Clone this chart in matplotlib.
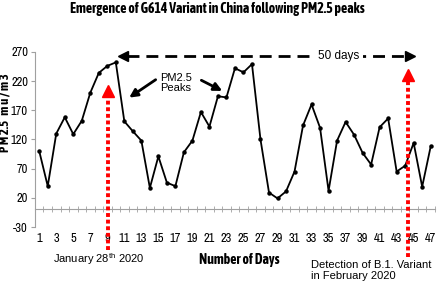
"""PM2.5 levels vs days, G614 variant chart"""

import matplotlib
matplotlib.use("Agg")
import matplotlib.pyplot as plt
import numpy as np

days = list(range(1, 48))
pm25 = [100, 40, 130, 158, 129, 152, 200, 234, 246, 252,
        151, 134, 118, 37, 91, 46, 40, 98, 118, 167,
        142, 194, 192, 242, 235, 249, 120, 29, 19, 31,
        65, 144, 180, 140, 32, 118, 150, 128, 97, 77,
        141, 156, 65, 75, 114, 39, 108]
y_ticks = [-30, 20, 70, 120, 170, 220, 270]
x_labels = list(range(1, 48, 2))

narrow = ['Archivo Narrow', 'DejaVu Sans']
narrow_bold = ['Asap Condensed', 'DejaVu Sans']
plain = ['Liberation Sans', 'DejaVu Sans']
plt.rcParams['mathtext.fontset'] = 'custom'
plt.rcParams['mathtext.rm'] = 'Liberation Sans'

fig = plt.figure(figsize=(4.4, 2.82), dpi=100)
ax = fig.add_axes([0.0795, 0.195, 0.909, 0.621])

ax.plot(days, pm25, color='black', lw=1.3, marker='o', markersize=2.2, zorder=3)

ax.set_xlim(0.5, 47.5)
ax.set_ylim(-30, 270)
ax.set_yticks(y_ticks)
ax.set_yticklabels([str(v) for v in y_ticks], family=narrow, fontsize=9)

# x axis sits at y = 0, labels stay at the bottom
ax.spines['bottom'].set_position(('data', 0))
ax.set_xticks(x_labels)
ax.set_xticklabels([str(v) for v in x_labels], family=narrow, fontsize=9)
ax.tick_params(axis='x', which='major', length=0, pad=17)
ax.set_xticks(np.arange(0.5, 48, 1), minor=True)
ax.tick_params(axis='x', which='minor', length=4, direction='inout', color='#a0a0a0')
ax.tick_params(axis='y', length=3, color='#a0a0a0', pad=2)
for s in ['top', 'right']:
    ax.spines[s].set_visible(False)
for s in ['left', 'bottom']:
    ax.spines[s].set_color('#a0a0a0')

ax.set_ylabel('P M 2.5   m u / m 3', family=narrow_bold, fontsize=9, fontweight='bold')
ax.yaxis.set_label_coords(-0.0575, 0.65)
ax.set_xlabel('Number of Days', family=narrow_bold, fontsize=10, fontweight='bold')
ax.xaxis.set_label_coords(0.51, -0.149)

fig.text(0.494, 0.968, 'Emergence of G614 Variant in China following PM2.5 peaks',
         ha='center', va='center', family=narrow_bold, fontsize=10, fontweight='bold')

# 50 days double arrow
ax.plot([11.3, 44.2], [263.6, 263.6], color='black', lw=2, dashes=(4.3, 2.5),
        clip_on=False)
ax.plot([10.9], [263.6], marker='<', color='black', markersize=7, clip_on=False)
ax.plot([44.6], [263.6], marker='>', color='black', markersize=7, clip_on=False)
ax.text(36.2, 263.6, '50 days', ha='center', va='center', family=plain, fontsize=8.5,
        bbox=dict(facecolor='white', edgecolor='none', pad=2.5), clip_on=False)

# PM2.5 peaks label with arrows
ax.text(15.2, 216.6, 'PM2.5\nPeaks', ha='left', va='center', family=plain,
        fontsize=8, linespacing=1.0)
ax.annotate('', xy=(11.3, 189), xytext=(14.95, 225),
            arrowprops=dict(arrowstyle='-|>', color='black', lw=2, mutation_scale=12))
ax.annotate('', xy=(22.8, 201), xytext=(19.76, 223.5),
            arrowprops=dict(arrowstyle='-|>', color='black', lw=2, mutation_scale=12))

# red dotted arrows
for x, top, bottom in [(9.06, 200, -70), (44.35, 228, -82)]:
    ax.plot([x, x], [bottom, top], color='red', lw=2.8, linestyle=(0, (1, 0.7)),
            solid_capstyle='butt', dash_capstyle='butt', clip_on=False, zorder=4)
    ax.plot([x], [top + 3], marker='^', color='red', markersize=8, clip_on=False,
            zorder=4)

ax.text(8.0, -85, r'January 28$^{\mathrm{th}}$ 2020', ha='center', va='center',
        family=plain, fontsize=8, clip_on=False)
ax.text(32.9, -104, 'Detection of B.1. Variant\nin February 2020', ha='left',
        va='center', family=plain, fontsize=8, linespacing=1.1, clip_on=False)

fig.savefig('out.png', dpi=100)
